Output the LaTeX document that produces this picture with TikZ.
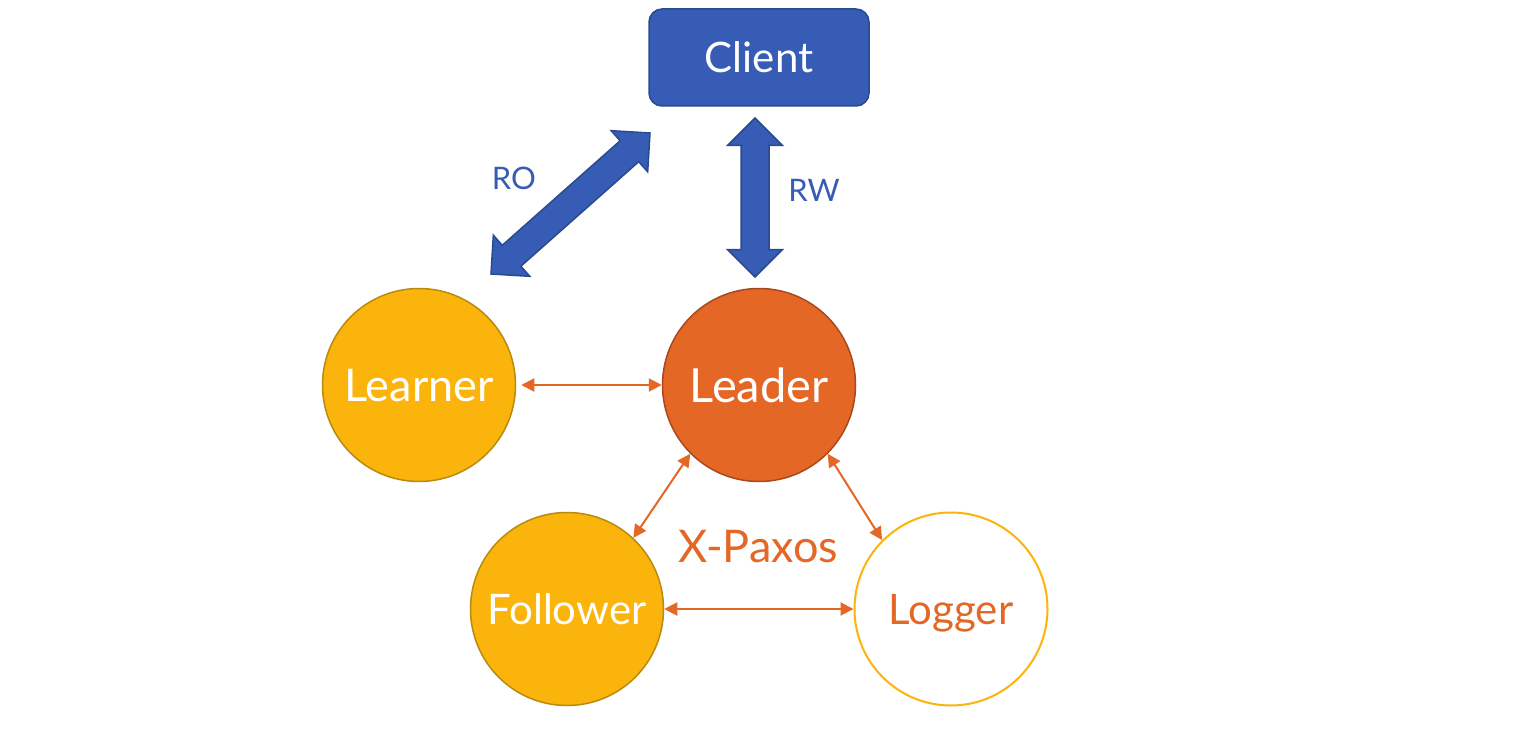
\documentclass[tikz,border=0pt]{standalone}
\usepackage{fontspec}
\setmainfont{Lato}
\usetikzlibrary{arrows.meta,calc}
\definecolor{cblue}{HTML}{365CB6}
\definecolor{cbluedark}{HTML}{2A4A8E}
\definecolor{cgold}{HTML}{FBB40B}
\definecolor{cgolddark}{HTML}{B88A0E}
\definecolor{corange}{HTML}{E46726}
\definecolor{corangedark}{HTML}{A9481C}
\newcommand{\fatarrow}[2]{%
  \filldraw[fatarrow]
    (#1)
    -- ($(#1)!27.5pt!(#2)!27.5pt!90:(#2)$)
    -- ($(#1)!27.5pt!(#2)!14pt!90:(#2)$)
    -- ($(#2)!27.5pt!(#1)!14pt!-90:(#1)$)
    -- ($(#2)!27.5pt!(#1)!27.5pt!-90:(#1)$)
    -- (#2)
    -- ($(#2)!27.5pt!(#1)!27.5pt!90:(#1)$)
    -- ($(#2)!27.5pt!(#1)!14pt!90:(#1)$)
    -- ($(#1)!27.5pt!(#2)!14pt!-90:(#2)$)
    -- ($(#1)!27.5pt!(#2)!27.5pt!-90:(#2)$)
    -- cycle;}
\begin{document}
\begin{tikzpicture}[x=1pt,y=-1pt,
  circ/.style={circle, minimum size=193pt, inner sep=0pt, text depth=0pt, line width=1.5pt},
  goldcirc/.style={circ, fill=cgold, draw=cgolddark, text=white},
  leadcirc/.style={circ, fill=corange, draw=corangedark, text=white},
  logcirc/.style={circ, fill=white, draw=cgold, text=corange, line width=2pt},
  clientbox/.style={rectangle, rounded corners=13pt, minimum width=220pt, minimum height=97pt,
    fill=cblue, draw=cbluedark, line width=1.5pt, text=white, inner sep=0pt,
    font=\fontsize{42}{48}\selectfont, text height=30pt, text depth=0pt},
  bluelbl/.style={text=cblue, font=\fontsize{31}{36}\selectfont, inner sep=0pt, text height=22.5pt, text depth=0pt},
  paxlbl/.style={text=corange, font=\fontsize{45}{52}\selectfont, inner sep=0pt, text height=32pt, text depth=0pt},
  link/.style={draw=corange, line width=2pt, {Triangle[length=13pt,width=13pt]}-{Triangle[length=13pt,width=13pt]}},
  fatarrow/.style={fill=cblue, draw=cbluedark, line width=1.5pt, line join=miter}
]
\useasboundingbox[fill=white] (0,0) rectangle (1528,738);

\node[clientbox] (client) at (759,57.5) {Client};

\node[goldcirc, font=\fontsize{45}{52}\selectfont, text height=32pt] (learner) at (419,385) {Learner};
\node[leadcirc, font=\fontsize{47}{54}\selectfont, text height=34pt] (leader) at (759,385) {Leader};
\node[goldcirc, font=\fontsize{42}{48}\selectfont, text height=30pt] (follower) at (567,609) {Follower};
\node[logcirc, font=\fontsize{42}{48}\selectfont, text height=30pt] (logger) at (951,609) {Logger};

\coordinate (roLow) at (491,274);
\coordinate (roHigh) at (650,133);
\coordinate (rwTop) at (755,118);
\coordinate (rwBot) at (755,277);
\fatarrow{roLow}{roHigh}
\fatarrow{rwTop}{rwBot}

\node[bluelbl] (ro) at (514,178) {RO};
\node[bluelbl] (rw) at (814,190) {RW};
\node[paxlbl] (xpaxos) at (758,546) {X-Paxos};

\draw[link, shorten <=5pt] (learner) -- (leader);
\draw[link] (leader.225) -- (follower.47);
\draw[link] (leader.315) -- (logger.135);
\draw[link] (follower) -- (logger);
\end{tikzpicture}
\end{document}
